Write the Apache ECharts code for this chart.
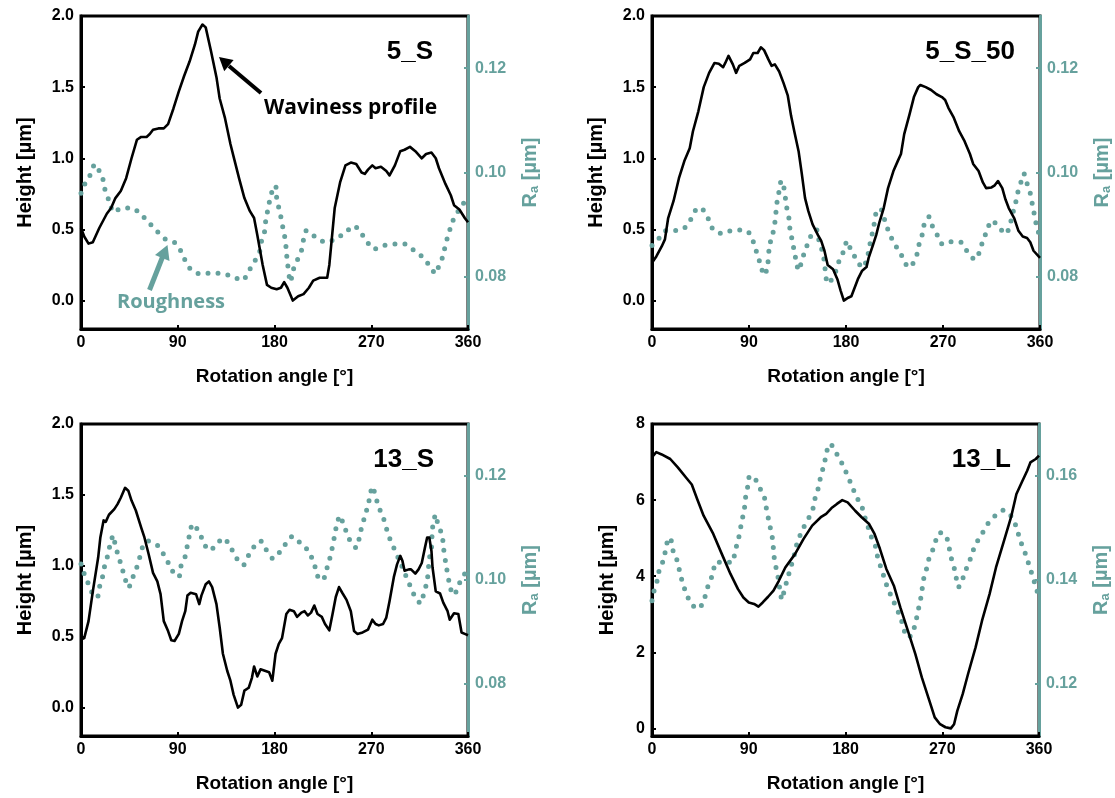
<!DOCTYPE html>
<html><head><meta charset="utf-8">
<script src="https://cdn.jsdelivr.net/npm/echarts@6/dist/echarts.min.js"></script>
<style>html,body{margin:0;padding:0;background:#fff}#c{width:1115px;height:798px}</style>
</head><body><div id="c"></div>
<script>
const TEAL = '#66a19d';
const FONT = 'Liberation Sans, Arial, sans-serif';
const ANNFONT = 'Open Sans, Lato, sans-serif';

const panelLabels = ['5_S', '5_S_50', '13_S', '13_L'];
const xTicks = [0, 90, 180, 270, 360];
const hTicksSmall = [0, 0.5, 1.0, 1.5, 2.0];
const hTicksLarge = [0, 2, 4, 6, 8];
const raTicksLow = [0.08, 0.10, 0.12];
const raTicksHigh = [0.12, 0.14, 0.16];

// ---- 5_S ----
const wav5S = [[0,0.51],[3,0.45],[7,0.40],[11,0.41],[17,0.51],[24,0.61],[28,0.65],[32,0.72],[37,0.77],[42,0.86],[47,1.0],[52,1.13],[56,1.15],[61,1.15],[64,1.17],[67,1.20],[72,1.21],[77,1.21],[81,1.24],[86,1.35],[91,1.47],[96,1.58],[101,1.68],[106,1.80],[109,1.89],[113,1.94],[116,1.92],[121,1.75],[126,1.57],[129,1.42],[134,1.28],[139,1.10],[142,1.01],[147,0.86],[152,0.72],[157,0.63],[161,0.58],[164,0.46],[169,0.25],[173,0.11],[177,0.09],[182,0.08],[186,0.09],[189,0.13],[192,0.09],[197,0.0],[202,0.03],[207,0.045],[212,0.09],[216,0.14],[222,0.16],[229,0.16],[231,0.25],[236,0.65],[241,0.83],[246,0.95],[251,0.97],[256,0.96],[261,0.90],[264,0.89],[267,0.92],[271,0.95],[274,0.93],[279,0.94],[284,0.91],[287,0.88],[292,0.95],[297,1.05],[301,1.06],[306,1.08],[311,1.05],[317,1.00],[321,1.03],[326,1.04],[330,1.00],[333,0.93],[339,0.82],[344,0.74],[347,0.67],[352,0.64],[357,0.58],[360,0.55]];
const rough5S = [[0,0.096],[4,0.098],[9,0.0997],[13,0.1016],[17,0.1003],[21,0.0983],[23,0.096],[27,0.0943],[30,0.0924],[39,0.0932],[47,0.0932],[56,0.0919],[63,0.0904],[70,0.0889],[78,0.0873],[87,0.0866],[93,0.0849],[97,0.0831],[103,0.0812],[111,0.0806],[121,0.0807],[131,0.0806],[141,0.0801],[150,0.0793],[156,0.0811],[161,0.0828],[166,0.0847],[168,0.0869],[171,0.0889],[172,0.0911],[174,0.093],[176,0.0951],[179,0.0971],[181,0.0975],[182,0.0952],[186,0.0914],[188,0.0892],[190,0.0871],[191,0.085],[192,0.0828],[195,0.079],[197,0.0811],[201,0.0831],[205,0.085],[210,0.0889],[219,0.0875],[228,0.0866],[237,0.0873],[246,0.0885],[254,0.0898],[260,0.0885],[266,0.0868],[272,0.0853],[282,0.086],[292,0.0863],[301,0.0863],[309,0.0852],[317,0.0839],[324,0.0822],[330,0.0806],[333,0.0822],[337,0.0841],[339,0.0862],[342,0.0882],[345,0.0903],[349,0.092],[355,0.0938],[360,0.0958]];

// ---- 5_S_50 ----
const wav5S50 = [[0,0.265],[4,0.31],[9,0.38],[12,0.43],[15,0.58],[20,0.70],[25,0.86],[30,0.98],[35,1.07],[38,1.19],[43,1.33],[48,1.50],[53,1.60],[58,1.67],[62,1.665],[66,1.64],[68,1.67],[71,1.72],[75,1.66],[78,1.60],[81,1.65],[86,1.67],[91,1.695],[94,1.74],[98,1.74],[101,1.78],[104,1.76],[108,1.695],[111,1.65],[114,1.66],[118,1.61],[122,1.53],[126,1.44],[129,1.30],[132,1.19],[136,1.05],[139,0.89],[142,0.72],[145,0.63],[149,0.535],[154,0.46],[157,0.42],[160,0.35],[163,0.25],[168,0.22],[172,0.15],[175,0.07],[178,0.0],[182,0.02],[185,0.03],[188,0.09],[191,0.15],[195,0.21],[199,0.235],[201,0.30],[205,0.39],[208,0.46],[211,0.55],[215,0.65],[219,0.79],[224,0.91],[228,0.98],[231,1.03],[234,1.17],[239,1.31],[243,1.43],[247,1.50],[249,1.515],[254,1.50],[259,1.48],[264,1.45],[269,1.43],[272,1.41],[275,1.355],[280,1.285],[285,1.19],[290,1.12],[295,1.03],[298,0.96],[303,0.91],[307,0.83],[310,0.79],[315,0.795],[318,0.81],[321,0.84],[325,0.79],[328,0.71],[331,0.65],[336,0.58],[340,0.49],[344,0.45],[348,0.44],[351,0.41],[354,0.35],[360,0.30]];
const rough5S50 = [[0,0.086],[7,0.0875],[14,0.0889],[24,0.0889],[32,0.0897],[37,0.0914],[43,0.0933],[48,0.0927],[53,0.0908],[57,0.089],[65,0.0883],[74,0.0889],[85,0.089],[91,0.0882],[95,0.0861],[98,0.0841],[101,0.0822],[104,0.0803],[107,0.0818],[109,0.0859],[112,0.0882],[114,0.0904],[116,0.0943],[118,0.0965],[120,0.0984],[122,0.0975],[125,0.0933],[127,0.0913],[128,0.0892],[130,0.0871],[132,0.0849],[134,0.0828],[136,0.0812],[139,0.0831],[142,0.085],[146,0.0871],[150,0.0889],[153,0.089],[155,0.0869],[158,0.0849],[160,0.0828],[161,0.0807],[163,0.0787],[167,0.0796],[171,0.0813],[174,0.0833],[178,0.085],[181,0.0869],[185,0.0849],[191,0.083],[195,0.0817],[199,0.0831],[201,0.0849],[203,0.0871],[205,0.0889],[207,0.0911],[209,0.093],[213,0.0928],[216,0.0908],[219,0.089],[223,0.0871],[228,0.0853],[233,0.0836],[238,0.0818],[242,0.0825],[246,0.0844],[248,0.0864],[251,0.0883],[253,0.0904],[257,0.0915],[260,0.0898],[265,0.0879],[270,0.0862],[280,0.0868],[287,0.0866],[293,0.0847],[300,0.0833],[304,0.0849],[307,0.0869],[311,0.0889],[315,0.0908],[321,0.0898],[328,0.0882],[332,0.0898],[334,0.0917],[337,0.0938],[339,0.0959],[342,0.0979],[345,0.0998],[348,0.0979],[351,0.096],[353,0.0938],[355,0.0917],[357,0.0896],[360,0.0876]];

// ---- 13_S ----
const wav13S = [[0,0.48],[3,0.49],[7,0.61],[11,0.82],[16,1.06],[18,1.20],[21,1.32],[23,1.31],[26,1.36],[31,1.40],[34,1.435],[37,1.48],[41,1.55],[44,1.53],[47,1.46],[51,1.39],[56,1.27],[59,1.20],[63,1.08],[67,0.95],[71,0.89],[74,0.80],[77,0.61],[81,0.54],[84,0.475],[87,0.47],[91,0.52],[94,0.61],[97,0.68],[99,0.79],[102,0.81],[107,0.80],[110,0.73],[112,0.79],[116,0.87],[119,0.89],[122,0.85],[126,0.73],[129,0.565],[132,0.38],[136,0.26],[139,0.19],[142,0.09],[146,0.0],[149,0.02],[152,0.12],[156,0.14],[159,0.21],[161,0.29],[164,0.22],[167,0.27],[171,0.26],[175,0.25],[178,0.19],[181,0.38],[184,0.45],[187,0.49],[191,0.66],[194,0.69],[198,0.68],[201,0.64],[205,0.67],[208,0.68],[211,0.65],[214,0.67],[217,0.72],[220,0.66],[224,0.64],[227,0.59],[231,0.545],[234,0.66],[237,0.78],[240,0.85],[243,0.81],[247,0.76],[251,0.68],[254,0.54],[257,0.52],[262,0.53],[267,0.55],[271,0.62],[274,0.59],[277,0.58],[281,0.59],[284,0.635],[287,0.75],[291,0.92],[294,1.01],[297,1.07],[299,1.035],[301,0.965],[305,0.975],[307,0.975],[311,0.945],[314,0.975],[317,1.02],[320,1.13],[322,1.20],[324,1.20],[326,1.105],[327,0.99],[330,0.82],[334,0.805],[337,0.74],[341,0.68],[343,0.62],[347,0.665],[351,0.66],[354,0.53],[357,0.52],[360,0.51]];
const rough13S = [[0,0.1031],[3,0.1012],[7,0.0992],[11,0.0973],[15,0.0966],[17,0.0985],[20,0.1006],[22,0.1027],[25,0.1048],[27,0.1067],[30,0.1086],[32,0.1065],[35,0.1045],[38,0.1024],[41,0.1003],[44,0.0985],[48,0.1004],[52,0.1025],[55,0.1046],[58,0.1067],[62,0.1075],[72,0.1065],[77,0.1049],[82,0.103],[87,0.1011],[91,0.1006],[93,0.1027],[97,0.1046],[99,0.1067],[101,0.1087],[104,0.1108],[109,0.1095],[113,0.1078],[119,0.1057],[126,0.1067],[132,0.1081],[137,0.1071],[142,0.1052],[147,0.1035],[151,0.1029],[156,0.1048],[162,0.1067],[167,0.1075],[172,0.1059],[179,0.1041],[185,0.1054],[191,0.1071],[197,0.1084],[204,0.1071],[211,0.1057],[216,0.1036],[219,0.1017],[222,0.1],[226,0.1003],[229,0.1024],[232,0.1046],[234,0.1065],[236,0.1086],[238,0.1107],[241,0.1124],[244,0.1107],[248,0.1087],[252,0.1068],[256,0.1062],[259,0.1082],[261,0.1101],[264,0.1122],[267,0.1144],[269,0.1163],[271,0.118],[274,0.1161],[277,0.114],[281,0.1121],[284,0.11],[287,0.1081],[291,0.1062],[295,0.1043],[299,0.1024],[303,0.1004],[307,0.0985],[311,0.0967],[316,0.0955],[319,0.0976],[322,0.0998],[324,0.104],[326,0.1062],[327,0.11],[330,0.1126],[332,0.1107],[336,0.1086],[337,0.1065],[340,0.1024],[344,0.0982],[347,0.0971],[351,0.099],[356,0.1008],[360,0.1027]];

// ---- 13_L ----
const wav13L = [[0,7.13],[4,7.26],[9,7.2],[17,7.08],[24,6.86],[32,6.58],[37,6.41],[42,6.03],[48,5.59],[57,5.11],[65,4.58],[73,4.06],[80,3.66],[85,3.44],[90,3.31],[95,3.27],[99,3.20],[103,3.31],[108,3.46],[113,3.62],[118,3.88],[124,4.23],[133,4.58],[141,4.98],[149,5.33],[157,5.55],[162,5.64],[167,5.79],[172,5.9],[177,6.0],[182,5.94],[189,5.72],[195,5.55],[202,5.37],[207,5.11],[212,4.72],[218,4.19],[225,3.75],[231,3.18],[238,2.57],[245,1.95],[251,1.34],[258,0.73],[263,0.29],[268,0.11],[273,0.03],[278,0.0],[281,0.11],[284,0.46],[289,0.9],[294,1.43],[301,2.13],[307,2.83],[314,3.53],[320,4.23],[327,4.89],[334,5.55],[339,6.16],[344,6.47],[349,6.77],[352,6.99],[357,7.08],[360,7.17]];
const rough13L = [[0,0.136],[2,0.138],[5,0.140],[7,0.1421],[11,0.144],[13,0.1463],[16,0.1482],[18,0.1475],[20,0.1453],[24,0.1434],[26,0.1413],[29,0.1392],[32,0.1373],[36,0.1357],[42,0.1344],[47,0.1354],[50,0.1373],[53,0.1394],[57,0.1413],[59,0.1434],[67,0.1434],[75,0.1434],[77,0.1454],[80,0.1475],[82,0.1496],[84,0.1517],[86,0.1538],[87,0.1558],[89,0.1579],[91,0.16],[95,0.1598],[99,0.1581],[104,0.1563],[106,0.1542],[108,0.1521],[110,0.1501],[112,0.148],[113,0.1459],[114,0.1438],[116,0.1418],[118,0.1397],[119,0.138],[121,0.1362],[123,0.138],[126,0.1402],[129,0.1424],[132,0.1445],[134,0.1464],[137,0.1482],[141,0.1501],[146,0.152],[150,0.1539],[152,0.156],[155,0.1579],[157,0.16],[160,0.1621],[162,0.1641],[165,0.1662],[168,0.1657],[173,0.1638],[178,0.1619],[182,0.16],[186,0.1581],[190,0.1561],[195,0.1542],[198,0.1521],[201,0.1502],[204,0.1483],[208,0.1464],[210,0.1443],[213,0.1424],[216,0.1405],[219,0.1386],[223,0.1367],[227,0.1348],[231,0.1329],[234,0.1309],[237,0.129],[241,0.1293],[245,0.1316],[247,0.1336],[249,0.1355],[251,0.1376],[252,0.1396],[255,0.1418],[257,0.1437],[261,0.1457],[268,0.1491],[273,0.1487],[276,0.1466],[278,0.1445],[281,0.1424],[283,0.1404],[285,0.1386],[288,0.1396],[291,0.1415],[295,0.1434],[298,0.1453],[302,0.1472],[307,0.1489],[312,0.1507],[319,0.1523],[327,0.1534],[333,0.1526],[338,0.1507],[341,0.1487],[344,0.1468],[348,0.1447],[351,0.1427],[354,0.1408],[357,0.1387],[360,0.1367]];

const panels = [
  {grid:{left:81, top:16, width:387, height:313}, hMin:-0.2, hMax:2.0, hTicks:hTicksSmall, hDec:1, rMin:0.07, rMax:0.13, rTicks:raTicksLow, wav:wav5S, rough:rough5S, label:[433,52]},
  {grid:{left:652, top:16, width:388, height:313}, hMin:-0.2, hMax:2.0, hTicks:hTicksSmall, hDec:1, rMin:0.07, rMax:0.13, rTicks:raTicksLow, wav:wav5S50, rough:rough5S50, label:[1015,52]},
  {grid:{left:81, top:424, width:387, height:312}, hMin:-0.2, hMax:2.0, hTicks:hTicksSmall, hDec:1, rMin:0.07, rMax:0.13, rTicks:raTicksLow, wav:wav13S, rough:rough13S, label:[434,460]},
  {grid:{left:652, top:424, width:387, height:312}, hMin:-0.2, hMax:8, hTicks:hTicksLarge, hDec:0, rMin:0.11, rMax:0.17, rTicks:raTicksHigh, wav:wav13L, rough:rough13L, label:[1011,460]}
];

const grids = [], xAxes = [], yAxes = [], series = [], graphics = [];
panels.forEach((p, i) => {
  grids.push(Object.assign({show:true, borderColor:'#000', borderWidth:3, backgroundColor:'transparent'}, p.grid));
  xAxes.push({
    gridIndex:i, type:'value', min:0, max:360, interval:90,
    axisLine:{show:true, onZero:false, lineStyle:{color:'#000', width:3}},
    axisTick:{show:true, inside:true, length:4, lineStyle:{color:'#000', width:2}},
    axisLabel:{color:'#000', fontWeight:'bold', fontSize:16, fontFamily:FONT, margin:6, customValues:xTicks},
    splitLine:{show:false},
    name:'Rotation angle [°]', nameLocation:'middle', nameGap:38,
    nameTextStyle:{color:'#000', fontWeight:'bold', fontSize:19, fontFamily:FONT}
  });
  yAxes.push({
    gridIndex:i, type:'value', position:'left', min:p.hMin, max:p.hMax,
    axisLine:{show:true, onZero:false, lineStyle:{color:'#000', width:3}},
    axisTick:{show:true, inside:true, length:4, customValues:p.hTicks, lineStyle:{color:'#000', width:2}},
    axisLabel:{color:'#000', fontWeight:'bold', fontSize:16, fontFamily:FONT, margin:7, customValues:p.hTicks,
      formatter:(v)=>Number(v).toFixed(p.hDec)},
    splitLine:{show:false},
    name:'Height [µm]', nameLocation:'middle', nameRotate:90, nameGap:p.hDec ? 46 : 35,
    nameTextStyle:{color:'#000', fontWeight:'bold', fontSize:20, fontFamily:FONT}
  });
  yAxes.push({
    gridIndex:i, type:'value', position:'right', min:p.rMin, max:p.rMax,
    axisLine:{show:true, onZero:false, lineStyle:{color:TEAL, width:3}},
    axisTick:{show:true, inside:true, length:4, customValues:p.rTicks, lineStyle:{color:TEAL, width:2}},
    axisLabel:{color:TEAL, fontWeight:'bold', fontSize:16, fontFamily:FONT, margin:7, customValues:p.rTicks,
      formatter:(v)=>Number(v).toFixed(2)},
    splitLine:{show:false},
    name:'{r|R}{s|a}{r| [µm]}', nameLocation:'middle', nameRotate:90, nameGap:52,
    nameTextStyle:{rich:{
      r:{color:TEAL, fontWeight:'bold', fontSize:20, fontFamily:FONT},
      s:{color:TEAL, fontWeight:'bold', fontSize:13, fontFamily:FONT, verticalAlign:'bottom', padding:[8,0,0,0]}
    }}
  });
  series.push({
    type:'line', xAxisIndex:i, yAxisIndex:2*i+1, data:p.rough, symbol:'none', smooth:0.3,
    lineStyle:{color:TEAL, width:5, type:[0, 10], cap:'round'}, z:2, animation:false
  });
  series.push({
    type:'line', xAxisIndex:i, yAxisIndex:2*i, data:p.wav, symbol:'none',
    lineStyle:{color:'#000', width:2.6, join:'round'}, z:3, animation:false
  });
  graphics.push({type:'text', x:p.label[0], y:p.label[1], z:10,
    style:{text:panelLabels[i], fill:'#000', font:'bold 26px ' + FONT, align:'right', verticalAlign:'middle'}});
});

// annotations (panel 5_S)
graphics.push({type:'line', z:10, shape:{x1:261, y1:93, x2:229, y2:66}, style:{stroke:'#000', lineWidth:4}});
graphics.push({type:'polygon', z:10, shape:{points:[[219,57],[233.6,60],[224.2,71.2]]}, style:{fill:'#000'}});
graphics.push({type:'text', z:10, x:264, y:108, style:{text:'Waviness profile', fill:'#000', font:'bold 21px ' + ANNFONT, verticalAlign:'middle'}});
graphics.push({type:'line', z:10, shape:{x1:149.5, y1:290, x2:162.5, y2:257}, style:{stroke:TEAL, lineWidth:5}});
graphics.push({type:'polygon', z:10, shape:{points:[[167.5,245],[169.5,261],[155,255]]}, style:{fill:TEAL}});
graphics.push({type:'text', z:10, x:171, y:302, style:{text:'Roughness', fill:TEAL, font:'bold 20px ' + ANNFONT, align:'center', verticalAlign:'middle'}});

const chart = echarts.init(document.getElementById('c'), null, {renderer:'canvas'});
chart.setOption({
  animation:false, backgroundColor:'#fff',
  grid:grids, xAxis:xAxes, yAxis:yAxes, series:series, graphic:graphics
});
</script></body></html>
